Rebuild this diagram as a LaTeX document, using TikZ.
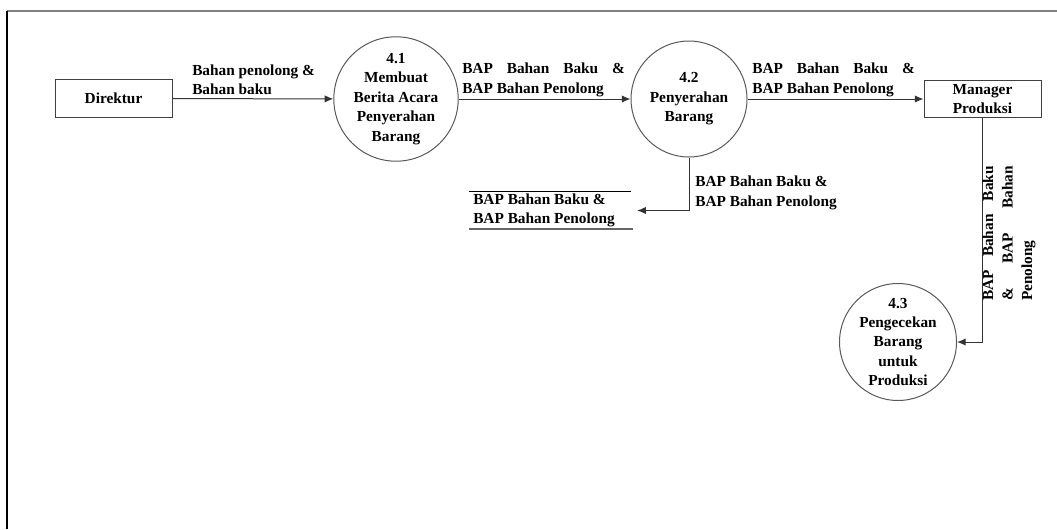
\documentclass[tikz,border=0pt]{standalone}
\usepackage{fontspec}
\setmainfont{Liberation Serif}
\usetikzlibrary{arrows.meta}
\begin{document}
\begin{tikzpicture}[x=0.75pt,y=-0.75pt,
  every node/.style={font=\fontsize{11.5}{14.6}\selectfont\bfseries, inner sep=0pt},
  entity/.style={draw=black!75, line width=0.75pt, minimum width=87.75pt, minimum height=28pt, align=center},
  proc/.style={draw=black!65, line width=0.75pt, circle, minimum size=87pt, align=center},
  flow/.style={draw=black!80, line width=0.75pt, -{Latex[length=6.5pt,width=5.5pt]}},
  lbl/.style={anchor=west, align=left}
]
\useasboundingbox (0,0) rectangle (1057,529);
% frame
\draw[line width=1.6pt, black!50] (7,11) -- (1057,11);
\draw[line width=1.1pt, black] (7,11) -- (7,529);

% nodes
\node[entity] (dir) at (113.5,98.5) {Direktur};
\node[proc] (p41) at (396,99) {4.1\\Membuat\\Berita Acara\\Penyerahan\\Barang};
\node[proc] (p42) at (689,99) {4.2\\Penyerahan\\Barang};
\node[entity] (mgr) at (982.5,99) {Manager\\Produksi};
\node[proc] (p43) at (898,342) {4.3\\Pengecekan\\Barang\\untuk\\Produksi};
\node[anchor=west, minimum width=120.75pt, minimum height=27.75pt, text width=114.75pt, inner xsep=3pt, align=flush left] (store) at (469,210.5) {BAP Bahan Baku \&\\BAP Bahan Penolong};
\draw[line width=0.7pt, black] (store.north west) -- (store.north east);
\draw[line width=1.3pt, black!60] (store.south west) -- ([xshift=1.5pt]store.south east);

% flows
\draw[flow] (dir) -- (p41);
\draw[flow] (p41) -- (p42);
\draw[flow] (p42) -- (mgr);
\draw[flow, shorten >=5pt] (p42.south) |- (store.east);
\draw[flow] (mgr.south) |- (p43.east);

% labels
\node[lbl] (l1) at (192,80) {Bahan penolong \&\\Bahan baku};
\node[lbl] (l2) at (462,80) {\makebox[122pt][s]{BAP Bahan Baku \&}\\BAP Bahan Penolong};
\node[lbl] (l3) at (752,80) {\makebox[122pt][s]{BAP Bahan Baku \&}\\BAP Bahan Penolong};
\node[lbl] (l4) at (695,193) {BAP Bahan Baku \&\\BAP Bahan Penolong};
\node[rotate=90, align=left] (l5) at (1009,233.5) {\makebox[101pt][s]{BAP Bahan Baku}\\\makebox[101pt][s]{\& BAP Bahan}\\Penolong};
\end{tikzpicture}
\end{document}
